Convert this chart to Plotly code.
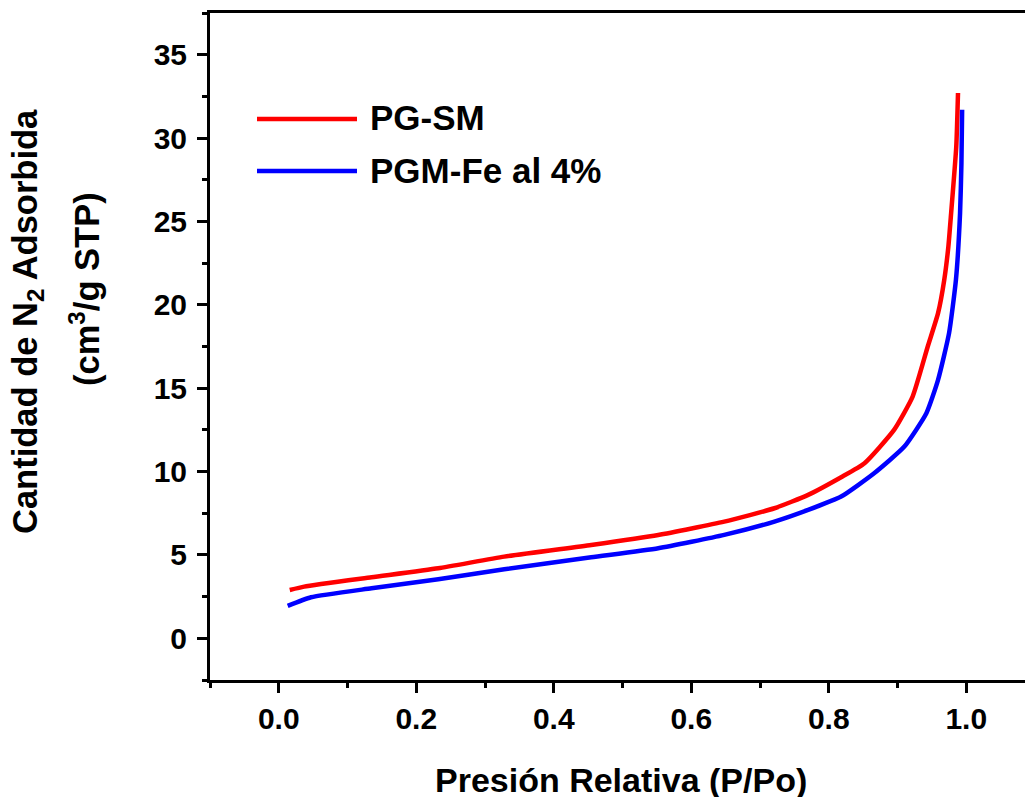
import plotly.graph_objects as go

# ---- data ----
pg_sm_x = [0.016, 0.037, 0.135, 0.232, 0.328, 0.4545, 0.552, 0.648, 0.721, 0.77,
           0.818, 0.852, 0.895, 0.922, 0.944, 0.959, 0.968, 0.974, 0.978, 0.9855, 0.988]
pg_sm_y = [2.9, 3.1, 3.66, 4.2, 4.9, 5.6, 6.2, 7.0, 7.8, 8.6,
           9.66, 10.5, 12.5, 14.5, 17.5, 19.5, 21.5, 23.5, 25.5, 29.5, 32.7]

pgm_fe_x = [0.013, 0.047, 0.135, 0.232, 0.328, 0.4545, 0.552, 0.648, 0.721, 0.77,
            0.818, 0.866, 0.91, 0.942, 0.959, 0.975, 0.985, 0.991, 0.993, 0.994]
pgm_fe_y = [1.94, 2.46, 3.0, 3.54, 4.14, 4.86, 5.4, 6.2, 7.0, 7.7,
            8.5, 9.9, 11.5, 13.5, 15.5, 18.3, 21.5, 25.5, 28.5, 31.7]

series_names = ["PG-SM", "PGM-Fe al 4%"]
series_colors = ["#ff0000", "#0000ff"]

x_title = "Presión Relativa (P/Po)"
y_title_1 = "Cantidad de N<sub>2</sub> Adsorbida"
y_title_2 = "(cm<sup>3</sup>/g STP)"

W, H = 1025, 797
ML, MR, MT, MB = 210, 0, 13, 117
PW, PH = W - ML - MR, H - MT - MB


def px(x):
    return (x - ML) / PW


def py(y):
    return (H - MB - y) / PH


FONT = "Liberation Sans, Arial, sans-serif"

fig = go.Figure()
for xs, ys, name, col in [(pg_sm_x, pg_sm_y, series_names[0], series_colors[0]),
                          (pgm_fe_x, pgm_fe_y, series_names[1], series_colors[1])]:
    fig.add_trace(go.Scatter(x=xs, y=ys, mode="lines", name=name,
                             line=dict(color=col, width=4.5, shape="spline", smoothing=0.5),
                             showlegend=False))

axis_common = dict(showline=True, linecolor="black", linewidth=3, ticks="outside",
                   tickcolor="black", tickwidth=3, ticklen=10, showgrid=False, zeroline=False,
                   tickfont=dict(family=FONT, size=30, color="black", weight="bold"))

fig.update_xaxes(range=[-0.1, -0.1 + PW / 687.5], tick0=0, dtick=0.2, tickformat=".1f",
                 mirror=True,
                 minor=dict(dtick=0.1, ticks="outside", ticklen=5, tickwidth=3, tickcolor="black"),
                 ticklabelstandoff=0,
                 **axis_common)
fig.update_yaxes(range=[-2.5, 37.5], tick0=0, dtick=5, mirror=False,
                 minor=dict(dtick=2.5, ticks="outside", ticklen=5, tickwidth=3, tickcolor="black"),
                 ticklabelstandoff=4,
                 **axis_common)

annotations = [
    dict(text=f"<b>{x_title}</b>", xref="paper", yref="paper", x=px(621), y=py(780),
         xanchor="center", yanchor="middle", showarrow=False,
         font=dict(family=FONT, size=34, color="black")),
    dict(text=f"<b>{y_title_1}</b>", xref="paper", yref="paper", x=px(28), y=py(322),
         xanchor="center", yanchor="middle", showarrow=False, textangle=-90,
         font=dict(family=FONT, size=34.5, color="black")),
    dict(text=f"<b>{y_title_2}</b>", xref="paper", yref="paper", x=px(84), y=py(289),
         xanchor="center", yanchor="middle", showarrow=False, textangle=-90,
         font=dict(family=FONT, size=34.5, color="black")),
]
shapes = []
for i, (name, col) in enumerate(zip(series_names, series_colors)):
    yy = 119 + 52 * i
    shapes.append(dict(type="line", xref="paper", yref="paper", x0=px(257), x1=px(357),
                       y0=py(yy), y1=py(yy), line=dict(color=col, width=4.5)))
    annotations.append(dict(text=f"<b>{name}</b>", xref="paper", yref="paper", x=px(368),
                            y=py(yy - 1), xanchor="left", yanchor="middle", showarrow=False,
                            font=dict(family=FONT, size=35, color="black")))

fig.update_layout(width=W, height=H, margin=dict(l=ML, r=MR, t=MT, b=MB),
                  plot_bgcolor="white", paper_bgcolor="white",
                  annotations=annotations, shapes=shapes, showlegend=False)

fig.write_html("out.html")
